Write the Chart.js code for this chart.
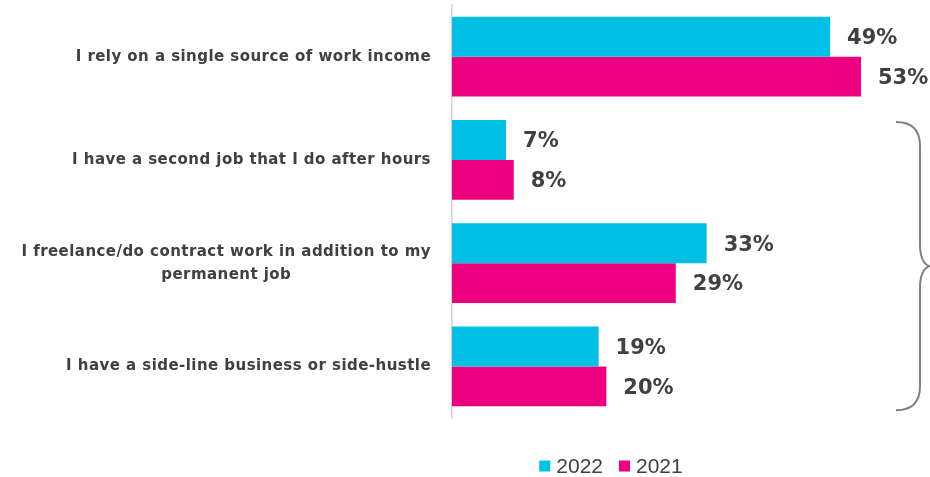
<!DOCTYPE html>
<html>
<head>
<meta charset="utf-8">
<script src="https://cdn.jsdelivr.net/npm/chart.js@4/dist/chart.umd.min.js"></script>
<style>
  html, body { margin: 0; padding: 0; background: #ffffff; }
  #wrap { width: 930px; height: 477px; position: relative; }
</style>
</head>
<body>
<div id="wrap"><canvas id="c"></canvas></div>
<script>
// Income sources, answers by survey year
const categories = [
  'I rely on a single source of work income',
  'I have a second job that I do after hours',
  ['I freelance/do contract work in addition to my', 'permanent job'],
  'I have a side-line business or side-hustle'
];
const seriesNames = ['2022', '2021'];
const values2022 = [49, 7, 33, 19];
const values2021 = [53, 8, 29, 20];

const CYAN = '#00C0E6';
const MAGENTA = '#EC0080';
const TEXT = '#404040';
const LABEL_FONT = 'bold 15px "DejaVu Sans"';
const VALUE_FONT = 'bold 21px "DejaVu Sans"';
const LEGEND_FONT = '21px "Liberation Sans"';
const CAT_PCT = 0.77;

// Category labels: right-aligned block, lines centred inside it
const categoryLabels = {
  id: 'categoryLabels',
  afterDraw(chart) {
    const ctx = chart.ctx;
    const y = chart.scales.y;
    const right = chart.chartArea.left - 21;
    const lineH = 23;
    ctx.save();
    ctx.font = LABEL_FONT;
    ctx.letterSpacing = '0.45px';
    ctx.fillStyle = TEXT;
    ctx.textBaseline = 'middle';
    ctx.textAlign = 'center';
    chart.data.labels.forEach((lab, i) => {
      const lines = Array.isArray(lab) ? lab : [lab];
      const w = Math.max(...lines.map(l => ctx.measureText(l).width));
      const cx = right - w / 2;
      const cy = y.getPixelForValue(i);
      const y0 = cy - (lines.length - 1) * lineH / 2;
      lines.forEach((l, k) => ctx.fillText(l, cx, y0 + k * lineH));
    });
    ctx.restore();
  }
};

// Percent labels just past the end of every bar
const valueLabels = {
  id: 'valueLabels',
  afterDatasetsDraw(chart) {
    const ctx = chart.ctx;
    ctx.save();
    ctx.font = VALUE_FONT;
    ctx.fillStyle = TEXT;
    ctx.textBaseline = 'middle';
    ctx.textAlign = 'left';
    chart.data.datasets.forEach((ds, di) => {
      chart.getDatasetMeta(di).data.forEach((bar, i) => {
        ctx.fillText(ds.data[i] + '%', bar.x + 17, bar.y + 2);
      });
    });
    ctx.restore();
  }
};

// Curly brace grouping the three "additional income" rows
const groupBrace = {
  id: 'groupBrace',
  afterDraw(chart) {
    const ctx = chart.ctx;
    const y = chart.scales.y;
    const step = Math.abs(y.getPixelForValue(1) - y.getPixelForValue(0));
    const half = step * CAT_PCT / 2;
    const top = y.getPixelForValue(1) - half + 2;
    const bot = y.getPixelForValue(3) + half + 4;
    const mid = (top + bot) / 2;
    const xe = chart.width - 34;   // free ends
    const xv = chart.width - 10;   // vertical stroke
    const xt = chart.width - 1;    // point
    const r = 24;
    ctx.save();
    ctx.strokeStyle = '#808080';
    ctx.lineWidth = 2;
    ctx.beginPath();
    ctx.moveTo(xe, top);
    ctx.quadraticCurveTo(xv, top, xv, top + r);
    ctx.lineTo(xv, mid - 22);
    ctx.quadraticCurveTo(xv, mid - 4, xt, mid);
    ctx.quadraticCurveTo(xv, mid + 4, xv, mid + 22);
    ctx.lineTo(xv, bot - r);
    ctx.quadraticCurveTo(xv, bot, xe, bot);
    ctx.stroke();
    ctx.restore();
  }
};

// Series key under the plot
const seriesKey = {
  id: 'seriesKey',
  afterDraw(chart) {
    const ctx = chart.ctx;
    const box = 11, gapText = 6, gapItem = 16;
    ctx.save();
    ctx.font = LEGEND_FONT;
    ctx.textBaseline = 'middle';
    ctx.textAlign = 'left';
    const items = chart.data.datasets.map(ds => ({
      text: ds.label, color: ds.backgroundColor, w: ctx.measureText(ds.label).width
    }));
    const total = items.reduce((s, it) => s + box + gapText + it.w, 0) + gapItem * (items.length - 1);
    const cx = chart.chartArea.left + 159;
    const cy = chart.chartArea.bottom + 48;
    let x = cx - total / 2;
    items.forEach(it => {
      ctx.fillStyle = it.color;
      ctx.fillRect(x, cy - box / 2, box, box);
      x += box + gapText;
      ctx.fillStyle = TEXT;
      ctx.fillText(it.text, x, cy + 1);
      x += it.w + gapItem;
    });
    ctx.restore();
  }
};

new Chart(document.getElementById('c'), {
  type: 'bar',
  data: {
    labels: categories,
    datasets: [
      { label: seriesNames[0], data: values2022, backgroundColor: CYAN },
      { label: seriesNames[1], data: values2021, backgroundColor: MAGENTA }
    ]
  },
  options: {
    indexAxis: 'y',
    responsive: true,
    maintainAspectRatio: false,
    animation: false,
    layout: { padding: { top: 5, right: 15, left: 0, bottom: 51 } },
    datasets: { bar: { categoryPercentage: CAT_PCT, barPercentage: 1 } },
    scales: {
      x: {
        min: 0, max: 60,
        ticks: { display: false },
        grid: { display: false },
        border: { display: false },
        afterFit(s) { s.height = 8; }
      },
      y: {
        ticks: { display: false },
        grid: { display: false },
        border: { display: true, color: '#d4d4d4', width: 1.5 },
        afterFit(s) { s.width = 452; }
      }
    },
    plugins: {
      tooltip: { enabled: false },
      legend: { display: false }
    }
  },
  plugins: [categoryLabels, valueLabels, groupBrace, seriesKey]
});
</script>
</body>
</html>
